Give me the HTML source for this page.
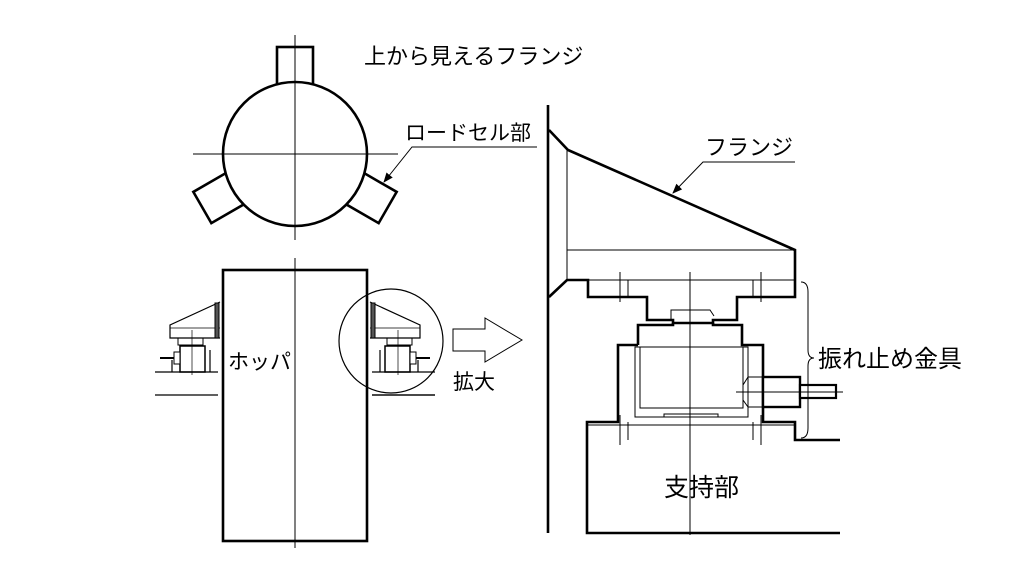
<!DOCTYPE html>
<html><head><meta charset="utf-8"><style>
html,body{margin:0;padding:0;background:#fff;}
svg{display:block}
text{font-family:"Liberation Sans","Noto Sans CJK JP",sans-serif;fill:#000;}
</style></head><body>
<svg width="1024" height="576" viewBox="0 0 1024 576" xmlns="http://www.w3.org/2000/svg">
<defs>
<marker id="ar" markerWidth="10" markerHeight="10" refX="9" refY="5" orient="auto" markerUnits="userSpaceOnUse"><path d="M0,1 L10,5 L0,9 z" fill="#000"/></marker>
<g id="lc">
  <path d="M220,302 L170,325 L170,338 L220,338" fill="#fff" stroke="#000" stroke-width="1.2"/>
  <line x1="170" y1="328" x2="220" y2="328" stroke="#000" stroke-width="0.7"/>
  <rect x="215" y="303" width="4" height="35" fill="#555"/>
  <path d="M178,338 L178,345 L203,345 L203,338" fill="none" stroke="#000" stroke-width="1"/>
  <rect x="180" y="346" width="25" height="26" fill="#fff" stroke="#000" stroke-width="1.5"/>
  <line x1="192" y1="330" x2="192" y2="375" stroke="#000" stroke-width="0.7"/>
  <rect x="174" y="352" width="6" height="12" fill="#fff" stroke="#000" stroke-width="1"/>
  <line x1="160" y1="358" x2="174" y2="358" stroke="#000" stroke-width="2"/>
  <path d="M155,372 L218,372 M155,395 L218,395 M172,372 L172,360 M210,372 L210,350" fill="none" stroke="#000" stroke-width="1.2"/>
</g>
</defs>
<g fill="none" stroke="#000">
  <g stroke-width="2.6" fill="#fff">
    <rect x="277" y="47" width="36" height="40" transform="rotate(0 295 154)"/>
    <rect x="277" y="47" width="36" height="40" transform="rotate(120 295 154)"/>
    <rect x="277" y="47" width="36" height="40" transform="rotate(240 295 154)"/>
    <circle cx="295" cy="154" r="72"/>
  </g>
  <line x1="193" y1="154" x2="398" y2="154" stroke-width="1"/>
  <line x1="295" y1="35" x2="295" y2="240" stroke-width="1"/>
  <polyline points="537,147 412,147 384,182" stroke-width="1" marker-end="url(#ar)"/>

  <rect x="223" y="270" width="144" height="271" stroke-width="2.6"/>
  <line x1="295" y1="258" x2="295" y2="548" stroke-width="1"/>
  <use href="#lc"/>
  <use href="#lc" transform="translate(590 0) scale(-1 1)"/>
  <line x1="372" y1="395" x2="435" y2="395" stroke-width="1.2"/>
  <circle cx="391" cy="341" r="52" stroke-width="1.2"/>

  <path d="M453,329 L485,329 L485,318 L522,340 L485,362 L485,351 L453,351 Z" stroke-width="1"/>

  <line x1="548" y1="105" x2="548" y2="533" stroke-width="2.6"/>
  <path d="M549,130 L568,150 L795,250 L795,297 L737,297 L737,320 L713,320 L713,323 L673,323 L673,320 L647,320 L647,297 L588,297 L588,280 L567,280 L549,297" stroke-width="2.6"/>
  <line x1="567" y1="150" x2="567" y2="280" stroke-width="1"/>
  <line x1="567" y1="250" x2="795" y2="250" stroke-width="1"/>
  <line x1="588" y1="280" x2="795" y2="280" stroke-width="1"/>
  <line x1="690" y1="272" x2="690" y2="535" stroke-width="1"/>
  <path d="M620,272 V302 M628,280 V297 M753,280 V297 M761,272 V302" stroke-width="1"/>
  <path d="M671,320 L671,310 L710,310 L714,316" stroke-width="1"/>
  <path d="M638,345 L638,325 L673,325 L673,323 M713,323 L713,325 L742,325 L742,345 L763,345 L763,422 L795,422 L795,440 L840,440 M638,345 L618,345 L618,422 L587,422 L587,533 L840,533" stroke-width="2.6"/>
  <rect x="635" y="347" width="113" height="70" stroke-width="1"/>
  <path d="M640,347 V408 H743 V347" stroke-width="1"/>
  <path d="M664,417 V414 H718 V417" stroke-width="1"/>
  <line x1="587" y1="425" x2="795" y2="425" stroke-width="1"/>
  <path d="M620,415 V445 M628,422 V440 M753,422 V440 M761,415 V445" stroke-width="1"/>
  <path d="M748,377 H763 M748,407 H763 M748,377 L743,385 M748,407 L743,400" stroke-width="1"/>
  <rect x="763" y="377" width="37" height="30" stroke-width="2.4" fill="#fff"/>
  <rect x="800" y="385" width="36" height="13" stroke-width="2.2" fill="#fff"/>
  <line x1="736" y1="392" x2="843" y2="392" stroke-width="1"/>
  <path d="M801,282 Q808,282 808,292 L808,350 Q808,358 814,358 Q808,358 808,366 L808,428 Q808,438 801,438" stroke-width="1"/>
  <polyline points="795,162 703,162 673,193" stroke-width="1" marker-end="url(#ar)"/>
</g>
<text x="364" y="64" font-size="22">上から見えるフランジ</text>
<text x="405" y="140" font-size="21">ロードセル部</text>
<text x="705" y="155" font-size="22">フランジ</text>
<text x="818" y="367" font-size="24">振れ止め金具</text>
<text x="664" y="496" font-size="25">支持部</text>
<text x="228" y="369" font-size="21">ホッパ</text>
<text x="453" y="389" font-size="21">拡大</text>
</svg>
</body></html>
